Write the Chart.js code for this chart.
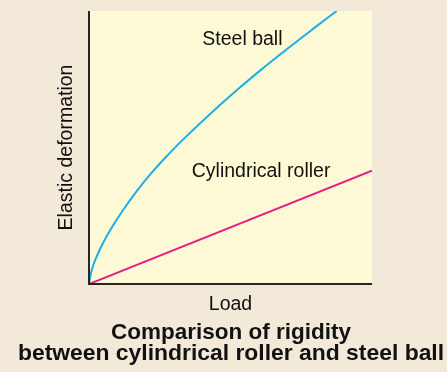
<!DOCTYPE html>
<html>
<head>
<meta charset="utf-8">
<script src="https://cdn.jsdelivr.net/npm/chart.js@4/dist/chart.umd.min.js"></script>
<style>
  html, body { margin: 0; padding: 0; background: #f2e9d8; }
  #wrap { width: 447px; height: 372px; }
</style>
</head>
<body>
<div id="wrap"><canvas id="rigidity"></canvas></div>
<script>
// ---- data (load vs. elastic deformation, relative units 0-100) ----
const ballLoad = [0, 1, 2.5, 5, 8, 12, 17, 22, 28, 34, 45, 53, 60, 71, 80, 87.5];
const ballDeform = [0, 5.3, 9.6, 15.1, 20.6, 27, 34.2, 40.6, 47.4, 53.7, 64.4, 71.7, 77.8, 86.9, 94.1, 100];
const rollerLoad = [0, 100];
const rollerDeform = [0, 41.5];

const seriesNames = ["Steel ball", "Cylindrical roller"];
const labelAt = [[54.2, 89.6], [60.8, 41.0]];   // where each curve name sits (data units)
const xTitle = "Load";
const yTitle = "Elastic deformation";
const titleLines = ["Comparison of rigidity", "between cylindrical roller and steel ball"];

const toPoints = (xs, ys) => xs.map((x, i) => ({ x: x, y: ys[i] }));

const FONT = '"Liberation Sans", Arial, Helvetica, sans-serif';

// plot background, axis lines and all the text
const decor = {
    id: "decor",
    beforeDraw(chart) {
        const { ctx, chartArea: a } = chart;
        ctx.save();
        ctx.fillStyle = "#fefad5";
        ctx.fillRect(a.left, a.top, a.right - a.left, a.bottom - a.top);
        ctx.restore();
    },
    afterDraw(chart) {
        const { ctx, chartArea: a, scales } = chart;
        ctx.save();
        // axes
        ctx.strokeStyle = "#262626";
        ctx.lineWidth = 2;
        ctx.beginPath();
        ctx.moveTo(a.left, a.top);
        ctx.lineTo(a.left, a.bottom);
        ctx.lineTo(a.right, a.bottom);
        ctx.stroke();

        ctx.fillStyle = "#111";
        ctx.textAlign = "center";
        ctx.textBaseline = "middle";

        // curve names
        ctx.font = "19.5px " + FONT;
        seriesNames.forEach((name, i) => {
            ctx.fillText(name,
                scales.x.getPixelForValue(labelAt[i][0]),
                scales.y.getPixelForValue(labelAt[i][1]));
        });

        // axis titles
        ctx.fillText(xTitle, (a.left + a.right) / 2, a.bottom + 21);
        ctx.save();
        ctx.translate(a.left - 22, (a.top + a.bottom) / 2);
        ctx.rotate(-Math.PI / 2);
        ctx.fillText(yTitle, 0, 0);
        ctx.restore();

        // caption
        ctx.font = "bold 22.5px " + FONT;
        ctx.fillText(titleLines[0], 231, a.bottom + 49);
        ctx.font = "bold 22.9px " + FONT;
        ctx.fillText(titleLines[1], 231, a.bottom + 70);
        ctx.restore();
    }
};

new Chart(document.getElementById("rigidity"), {
    type: "scatter",
    data: {
        datasets: [
            {
                label: seriesNames[0],
                data: toPoints(ballLoad, ballDeform),
                showLine: true,
                borderColor: "#1aafe6",
                borderWidth: 2,
                pointRadius: 0,
                tension: 0.4
            },
            {
                label: seriesNames[1],
                data: toPoints(rollerLoad, rollerDeform),
                showLine: true,
                borderColor: "#ec1a85",
                borderWidth: 2,
                pointRadius: 0
            }
        ]
    },
    options: {
        responsive: true,
        maintainAspectRatio: false,
        animation: false,
        layout: { padding: { left: 89, top: 11, right: 75, bottom: 88 } },
        plugins: {
            legend: { display: false },
            tooltip: { enabled: false }
        },
        scales: {
            x: { type: "linear", min: 0, max: 100, display: false },
            y: { type: "linear", min: 0, max: 100, display: false }
        }
    },
    plugins: [decor]
});
</script>
</body>
</html>
